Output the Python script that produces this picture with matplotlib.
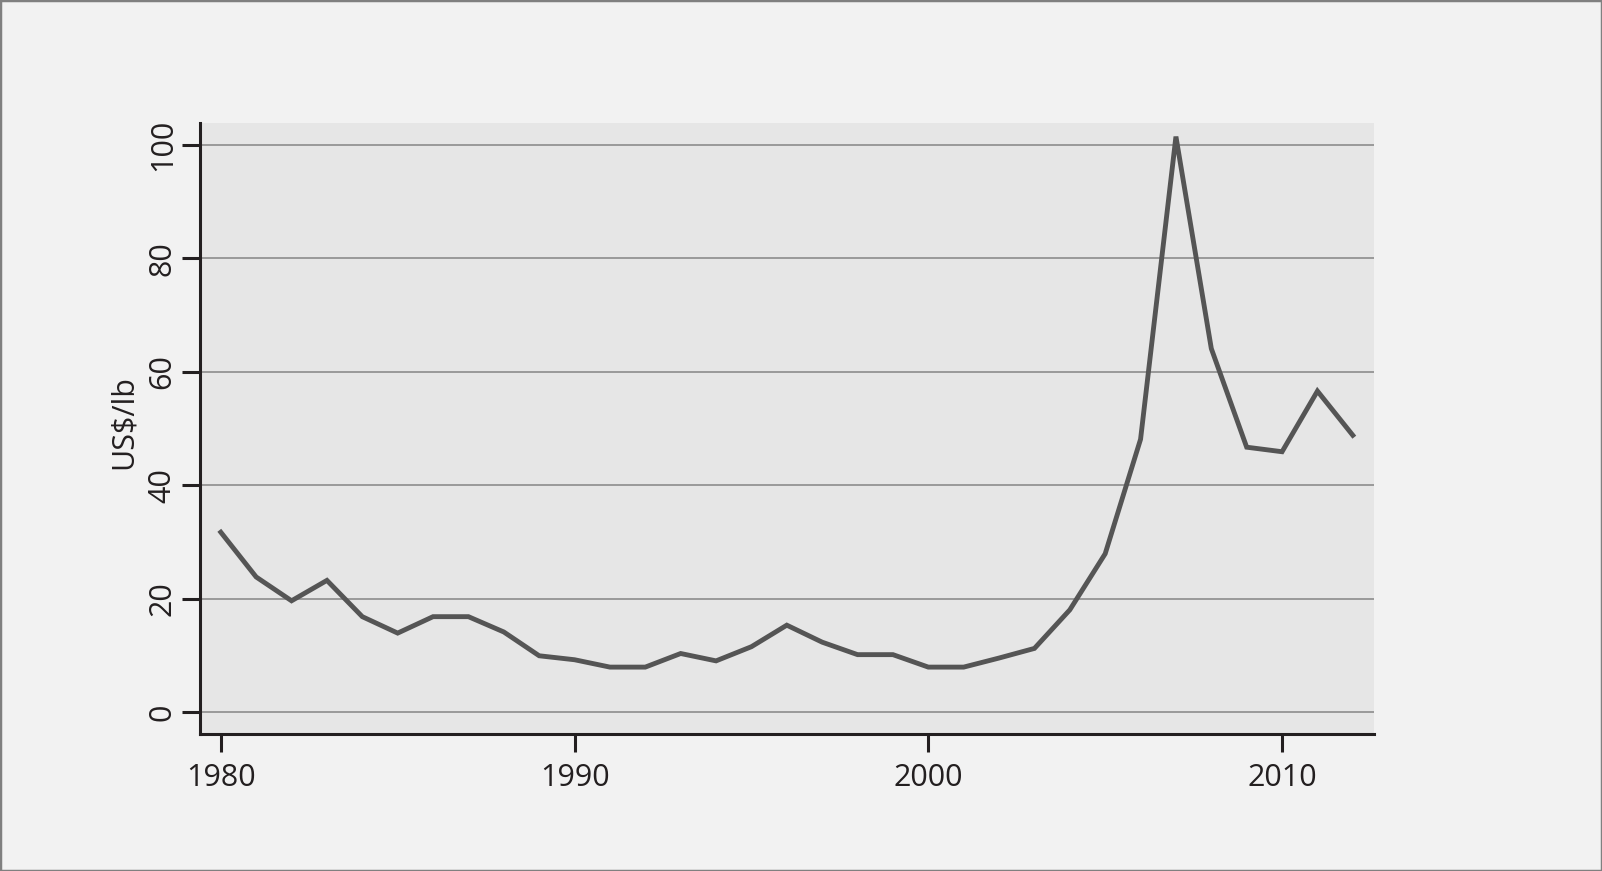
import matplotlib.pyplot as plt
from matplotlib.patches import Rectangle

# prezzo annuo (US$/lb)
years = list(range(1980, 2013))
price = [31.7, 23.8, 19.6, 23.2, 16.8, 13.9, 16.8, 16.8, 14.1, 9.9,
         9.2, 7.9, 7.9, 10.3, 9.0, 11.5, 15.3, 12.3, 10.1, 10.1,
         7.9, 7.9, 9.5, 11.2, 18.0, 27.9, 48.1, 101.5, 64.1, 46.7,
         45.9, 56.6, 48.8]
xticks = [1980, 1990, 2000, 2010]
yticks = [0, 20, 40, 60, 80, 100]

plt.rcParams['font.family'] = ['Open Sans', 'DejaVu Sans']
plt.rcParams['font.size'] = 22

fig = plt.figure(figsize=(16.02, 8.71), dpi=100)
fig.patch.set_facecolor('#f2f2f2')
# bordo grigio attorno alla figura
fig.patches.append(Rectangle((0, 0), 1, 1, transform=fig.transFigure,
                             fill=False, edgecolor='#808080', linewidth=2.5))

ax = fig.add_axes([0.1248, 0.1573, 0.8577 - 0.1248, 0.8588 - 0.1573])
ax.set_facecolor('#e6e6e6')

ax.plot(years, price, color='#555555', linewidth=3.5,
        solid_joinstyle='miter', zorder=3)

ax.set_xlim(1979.41, 2012.6)
ax.set_ylim(-3.9, 103.9)
ax.set_xticks(xticks)
ax.set_yticks(yticks)

ax.grid(True, axis='y', color='#999999', linewidth=1.4)
ax.set_axisbelow(True)

for s in ['top', 'right']:
    ax.spines[s].set_visible(False)
for s in ['left', 'bottom']:
    ax.spines[s].set_color('#231f20')
    ax.spines[s].set_linewidth(2.2)

ax.tick_params(axis='both', colors='#231f20', width=2.2, length=13)
ax.tick_params(axis='x', pad=8)
ax.tick_params(axis='y', pad=3)
for lab in ax.get_yticklabels():
    lab.set_rotation(90)
    lab.set_va('center')

ax.set_ylabel('US$/lb', color='#231f20')
ax.yaxis.set_label_coords(-0.052, 0.51)

fig.savefig('out.png', dpi=100, facecolor=fig.get_facecolor())
